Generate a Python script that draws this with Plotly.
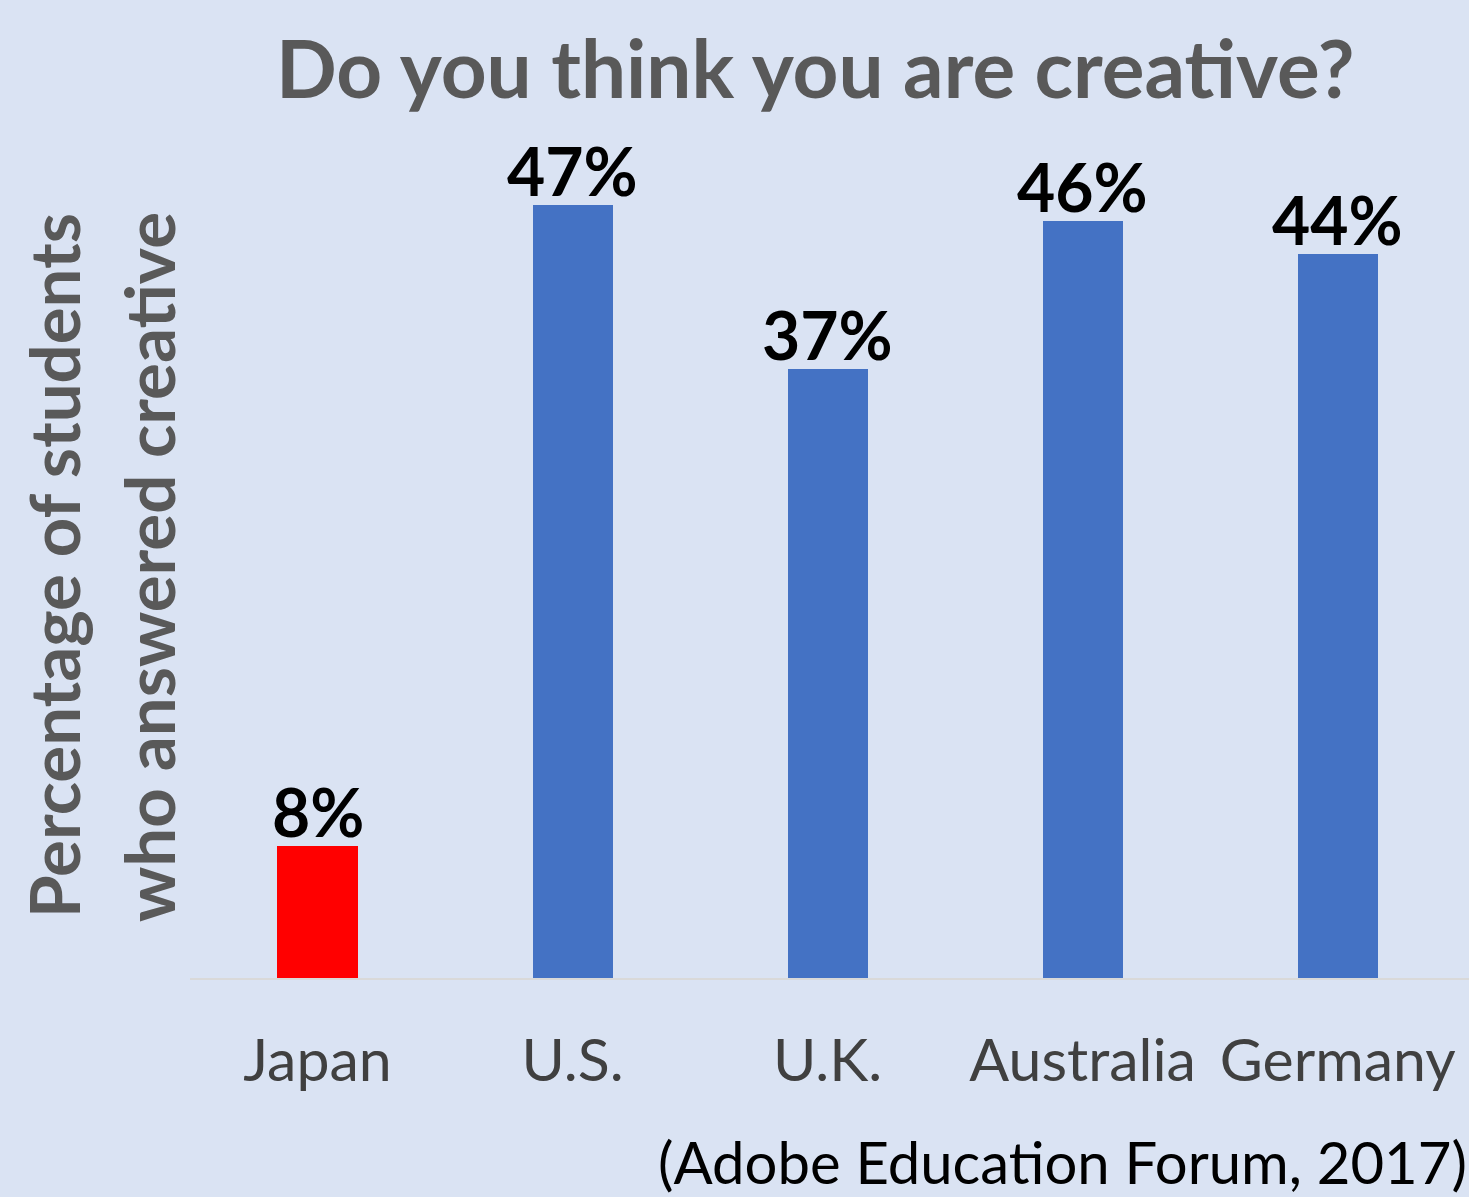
import plotly.graph_objects as go

countries = ["Japan", "U.S.", "U.K.", "Australia", "Germany"]
values = [8, 47, 37, 46, 44]
labels = ["8%", "47%", "37%", "46%", "44%"]
bar_colors = ["#FF0000", "#4472C4", "#4472C4", "#4472C4", "#4472C4"]

title_text = "Do you think you are creative?"
ytitle_lines = ["Percentage of students", "who answered creative"]
source_text = "(Adobe Education Forum, 2017)"

FONT = "Lato"
W, H = 1469, 1197
L, R, T, B = 190, 0, 140, 219
PW, PH = W - L - R, H - T - B


def px(x):
    return (x - L) / PW


def py(y):
    return (H - B - y) / PH


fig = go.Figure(go.Bar(
    x=countries, y=values, marker_color=bar_colors, marker_line_width=0,
    width=0.314, cliponaxis=False,
))

label_annotations = [
    dict(text=lab, x=c, y=v, xref="x", yref="y", xanchor="center", yanchor="bottom",
         yshift=-7, showarrow=False,
         font=dict(family=FONT, size=66, color="#000000", weight="bold"))
    for c, v, lab in zip(countries, values, labels)
]

fig.update_layout(
    width=W, height=H,
    margin=dict(l=L, r=R, t=T, b=B),
    paper_bgcolor="#DAE3F3", plot_bgcolor="#DAE3F3",
    showlegend=False,
    bargap=0,
    xaxis=dict(range=[-0.5, 4.515], showgrid=False, showline=True,
               linecolor="#D9D9D9", linewidth=2, ticks="",
               tickfont=dict(family=FONT, size=59, color="#404040"),
               ticklabelstandoff=30),
    yaxis=dict(range=[0, 50.95], showgrid=False, showticklabels=False,
               zeroline=False, showline=False),
    annotations=label_annotations + [
        dict(text=title_text, x=px(815), y=py(67), xref="paper", yref="paper",
             xanchor="center", yanchor="middle", showarrow=False,
             font=dict(family=FONT, size=80, color="#595959", weight="bold")),
        dict(text=ytitle_lines[0], x=px(53), y=py(566), xref="paper", yref="paper",
             xanchor="center", yanchor="middle", showarrow=False, textangle=-90,
             font=dict(family=FONT, size=69, color="#595959", weight="bold")),
        dict(text=ytitle_lines[1], x=px(148), y=py(567), xref="paper", yref="paper",
             xanchor="center", yanchor="middle", showarrow=False, textangle=-90,
             font=dict(family=FONT, size=69, color="#595959", weight="bold")),
        dict(text=source_text, x=px(1469), y=py(1161), xref="paper", yref="paper",
             xanchor="right", yanchor="middle", showarrow=False,
             font=dict(family=FONT, size=58, color="#000000")),
    ],
)

fig.write_html("out.html")
